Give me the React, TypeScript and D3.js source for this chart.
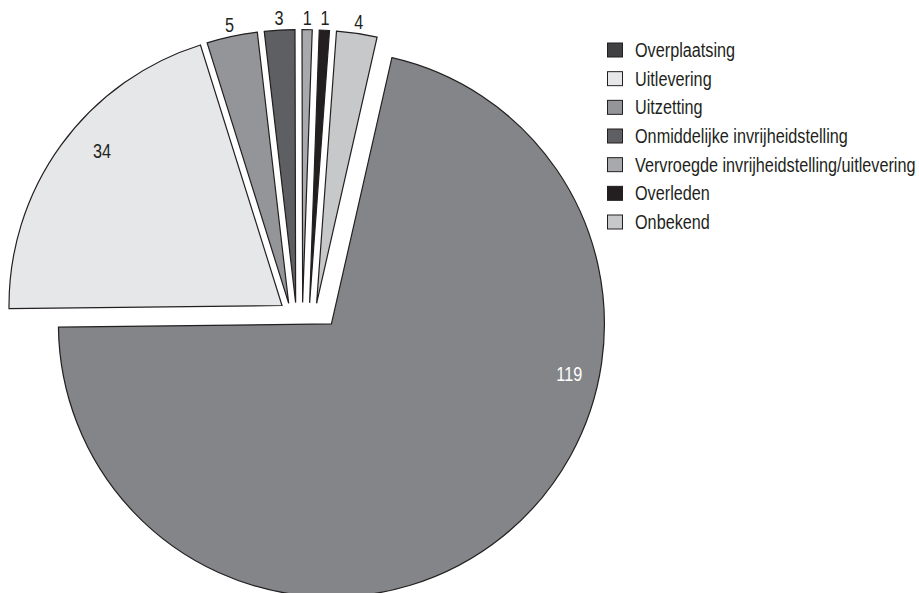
import React from "react";
import * as d3 from "d3";

const categories = [
  "Overplaatsing",
  "Uitlevering",
  "Uitzetting",
  "Onmiddelijke invrijheidstelling",
  "Vervroegde invrijheidstelling/uitlevering",
  "Overleden",
  "Onbekend",
];
const values = [119, 34, 5, 3, 1, 1, 4];
const labels = values.map(String);

const sliceColors = ["#838588", "#e6e7e8", "#939598", "#5e5f62", "#a7a9ac", "#231f20", "#c7c8ca"];
const legendColors = ["#414042", "#e6e7e8", "#939598", "#5e5f62", "#a7a9ac", "#231f20", "#c7c8ca"];

const W = 919;
const H = 593;
const R = 273;
const START_DEG = 12.8;
const ORIGIN: [number, number] = [282, 305.5]; // apex of the first slice after the big one
const CHAIN_GAP = 7;
const BIG_GAP_BEFORE = 19;
const BIG_GAP_AFTER = 19;
const FONT = "'Liberation Sans', Arial, Helvetica, sans-serif";
const NARROW = 0.82; // horizontal condensing of the face
const FS = 19.8;
const INK = "#231f20";

// inside label placement (fraction along slice, fraction of radius)
const insideLabel: (null | { f: number; r: number; color: string })[] = [
  { f: 0.347, r: 0.89, color: "#ffffff" },
  { f: 0.565, r: 0.87, color: INK },
  null,
  null,
  null,
  null,
  null,
];

function NarrowText(props: { x: number; y: number; anchor?: string; fill: string; children: React.ReactNode }) {
  return (
    <text
      transform={`translate(${props.x},${props.y}) scale(${NARROW},1)`}
      dy="0.36em"
      textAnchor={props.anchor || "start"}
      fontSize={FS}
      fill={props.fill}
    >
      {props.children}
    </text>
  );
}

export default function App() {
  const a0 = (START_DEG * Math.PI) / 180;
  const arcs = d3
    .pie<number>()
    .sort(null)
    .startAngle(a0)
    .endAngle(a0 + 2 * Math.PI)(values);

  const arcGen = d3.arc<d3.PieArcDatum<number>>().innerRadius(0).outerRadius(R);

  const n = (phi: number): [number, number] => [Math.cos(phi), Math.sin(phi)];
  const t: [number, number][] = new Array(values.length);
  t[1] = [0, 0];
  for (let i = 1; i < values.length - 1; i++) {
    const [nx, ny] = n(arcs[i].endAngle);
    t[i + 1] = [t[i][0] + CHAIN_GAP * nx, t[i][1] + CHAIN_GAP * ny];
  }
  {
    const na = n(arcs[0].startAngle);
    const nb = n(arcs[0].endAngle);
    const last = t[values.length - 1];
    const c1 = BIG_GAP_BEFORE + na[0] * last[0] + na[1] * last[1];
    const c2 = nb[0] * t[1][0] + nb[1] * t[1][1] - BIG_GAP_AFTER;
    const det = na[0] * nb[1] - na[1] * nb[0];
    t[0] = [(c1 * nb[1] - na[1] * c2) / det, (na[0] * c2 - c1 * nb[0]) / det];
  }
  const apex = t.map(([x, y]) => [ORIGIN[0] + x, ORIGIN[1] + y]);

  const legendY = d3.scalePoint<string>().domain(categories).range([50, 222]);

  return (
    <svg
      width={W}
      height={H}
      style={{ position: "absolute", left: 0, top: 0, background: "#ffffff" }}
      fontFamily={FONT}
    >
      <rect width={W} height={H} fill="#ffffff" />
      {arcs.map((a, i) => {
        const [ax, ay] = apex[i];
        const il = insideLabel[i];
        let lx: number, ly: number, color: string;
        if (il) {
          const ang = a.startAngle + il.f * (a.endAngle - a.startAngle);
          lx = ax + il.r * R * Math.sin(ang);
          ly = ay - il.r * R * Math.cos(ang);
          color = il.color;
        } else {
          const ang = (a.startAngle + a.endAngle) / 2;
          lx = ax + (R + 12) * Math.sin(ang);
          ly = ay - (R + 12) * Math.cos(ang);
          color = INK;
        }
        return (
          <g key={categories[i]}>
            <path
              d={arcGen(a) || ""}
              transform={`translate(${ax},${ay})`}
              fill={sliceColors[i]}
              stroke={INK}
              strokeWidth={1.2}
              strokeLinejoin="miter"
            />
            <NarrowText x={lx} y={ly} anchor="middle" fill={color}>
              {labels[i]}
            </NarrowText>
          </g>
        );
      })}
      {categories.map((c, i) => {
        const y = legendY(c) as number;
        return (
          <g key={"lg" + c}>
            <rect x={607.5} y={y - 7} width={15} height={14} fill={legendColors[i]} stroke={INK} strokeWidth={1} />
            <NarrowText x={635} y={y} fill={INK}>
              {c}
            </NarrowText>
          </g>
        );
      })}
    </svg>
  );
}
